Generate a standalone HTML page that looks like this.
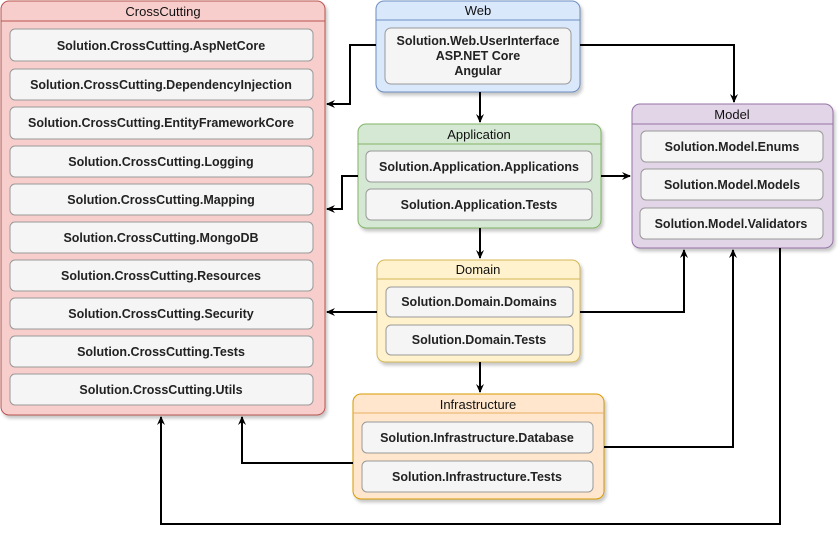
<!DOCTYPE html>
<html><head><meta charset="utf-8"><style>
html,body{margin:0;padding:0;background:#fff;}
svg{display:block;}
text{font-family:"Liberation Sans",Arial,sans-serif;}
.t{font-size:13px;fill:#111;text-anchor:middle;}
.i{font-size:12.5px;font-weight:bold;fill:#222;text-anchor:middle;}
.it{fill:#f5f5f5;stroke:#999;stroke-width:1;}
.ln{fill:none;stroke:#000;stroke-width:2;}
</style></head><body>
<svg width="840" height="535" viewBox="0 0 840 535" xmlns="http://www.w3.org/2000/svg">
<defs>
<filter id="sh" x="-5%" y="-5%" width="115%" height="115%"><feDropShadow dx="2" dy="3" stdDeviation="1.5" flood-color="#000" flood-opacity="0.22"/></filter>
<marker id="a" markerWidth="10" markerHeight="10" refX="8" refY="5" orient="auto" markerUnits="userSpaceOnUse"><path d="M0,1 L9,5 L0,9 L3,5 Z" fill="#000"/></marker>
</defs>

<!-- CrossCutting -->
<rect x="1" y="1" width="324" height="414" rx="8" fill="#f8cecc" stroke="#b85450" filter="url(#sh)"/>
<line x1="1" y1="21" x2="325" y2="21" stroke="#b85450"/>
<text class="t" x="163" y="16">CrossCutting</text>
<g>
<rect class="it" x="10" y="29" width="303" height="32" rx="5"/><text class="i" x="161" y="50">Solution.CrossCutting.AspNetCore</text>
<rect class="it" x="10" y="69" width="303" height="31" rx="5"/><text class="i" x="161" y="89">Solution.CrossCutting.DependencyInjection</text>
<rect class="it" x="10" y="107" width="303" height="32" rx="5"/><text class="i" x="161" y="127">Solution.CrossCutting.EntityFrameworkCore</text>
<rect class="it" x="10" y="146" width="303" height="31" rx="5"/><text class="i" x="161" y="166">Solution.CrossCutting.Logging</text>
<rect class="it" x="10" y="184" width="303" height="31" rx="5"/><text class="i" x="161" y="204">Solution.CrossCutting.Mapping</text>
<rect class="it" x="10" y="222" width="303" height="31" rx="5"/><text class="i" x="161" y="242">Solution.CrossCutting.MongoDB</text>
<rect class="it" x="10" y="260" width="303" height="31" rx="5"/><text class="i" x="161" y="280">Solution.CrossCutting.Resources</text>
<rect class="it" x="10" y="298" width="303" height="31" rx="5"/><text class="i" x="161" y="318">Solution.CrossCutting.Security</text>
<rect class="it" x="10" y="336" width="303" height="31" rx="5"/><text class="i" x="161" y="356">Solution.CrossCutting.Tests</text>
<rect class="it" x="10" y="374" width="303" height="31" rx="5"/><text class="i" x="161" y="394">Solution.CrossCutting.Utils</text>
</g>

<!-- Web -->
<rect x="376" y="1" width="204" height="91" rx="8" fill="#dae8fc" stroke="#6c8ebf" filter="url(#sh)"/>
<line x1="376" y1="20" x2="580" y2="20" stroke="#6c8ebf"/>
<text class="t" x="478" y="15">Web</text>
<rect class="it" x="385" y="28" width="186" height="56" rx="6"/>
<text class="i" x="478" y="45">Solution.Web.UserInterface</text>
<text class="i" x="478" y="60">ASP.NET Core</text>
<text class="i" x="478" y="75">Angular</text>

<!-- Application -->
<rect x="358" y="124" width="243" height="104" rx="8" fill="#d5e8d4" stroke="#82b366" filter="url(#sh)"/>
<line x1="358" y1="144" x2="601" y2="144" stroke="#82b366"/>
<text class="t" x="479" y="139">Application</text>
<rect class="it" x="366" y="151" width="226" height="31" rx="5"/><text class="i" x="479" y="171">Solution.Application.Applications</text>
<rect class="it" x="366" y="189" width="226" height="31" rx="5"/><text class="i" x="479" y="209">Solution.Application.Tests</text>

<!-- Domain -->
<rect x="377" y="260" width="203" height="102" rx="8" fill="#fff2cc" stroke="#d6b656" filter="url(#sh)"/>
<line x1="377" y1="279" x2="580" y2="279" stroke="#d6b656"/>
<text class="t" x="478" y="274">Domain</text>
<rect class="it" x="386" y="287" width="187" height="30" rx="5"/><text class="i" x="479" y="306">Solution.Domain.Domains</text>
<rect class="it" x="386" y="325" width="187" height="30" rx="5"/><text class="i" x="479" y="344">Solution.Domain.Tests</text>

<!-- Infrastructure -->
<rect x="353" y="394" width="251" height="105" rx="8" fill="#ffe6cc" stroke="#d79b00" filter="url(#sh)"/>
<line x1="353" y1="413" x2="604" y2="413" stroke="#e8b060"/>
<text class="t" x="478" y="409">Infrastructure</text>
<rect class="it" x="362" y="422" width="231" height="31" rx="5"/><text class="i" x="477" y="442">Solution.Infrastructure.Database</text>
<rect class="it" x="362" y="461" width="231" height="31" rx="5"/><text class="i" x="477" y="481">Solution.Infrastructure.Tests</text>

<!-- Model -->
<rect x="632" y="104" width="201" height="144" rx="8" fill="#e1d5e7" stroke="#9673a6" filter="url(#sh)"/>
<line x1="632" y1="124" x2="833" y2="124" stroke="#9673a6"/>
<text class="t" x="732" y="119">Model</text>
<rect class="it" x="641" y="131" width="182" height="31" rx="5"/><text class="i" x="732" y="151">Solution.Model.Enums</text>
<rect class="it" x="641" y="169" width="182" height="31" rx="5"/><text class="i" x="732" y="189">Solution.Model.Models</text>
<rect class="it" x="640" y="208" width="183" height="31" rx="5"/><text class="i" x="731" y="228">Solution.Model.Validators</text>

<!-- connectors -->
<path class="ln" d="M376,45 H350 V104 H327" marker-end="url(#a)"/>
<path class="ln" d="M580,45 H734 V102" marker-end="url(#a)"/>
<path class="ln" d="M480,92 V122" marker-end="url(#a)"/>
<path class="ln" d="M358,176 H342 V209 H327" marker-end="url(#a)"/>
<path class="ln" d="M601,176 H630" marker-end="url(#a)"/>
<path class="ln" d="M480,228 V258" marker-end="url(#a)"/>
<path class="ln" d="M377,312 H327" marker-end="url(#a)"/>
<path class="ln" d="M580,312 H684 V250" marker-end="url(#a)"/>
<path class="ln" d="M480,362 V392" marker-end="url(#a)"/>
<path class="ln" d="M353,463 H242 V417" marker-end="url(#a)"/>
<path class="ln" d="M604,447 H733 V250" marker-end="url(#a)"/>
<path class="ln" d="M780,248 V524 H161 V417" marker-end="url(#a)"/>
</svg>
</body></html>
